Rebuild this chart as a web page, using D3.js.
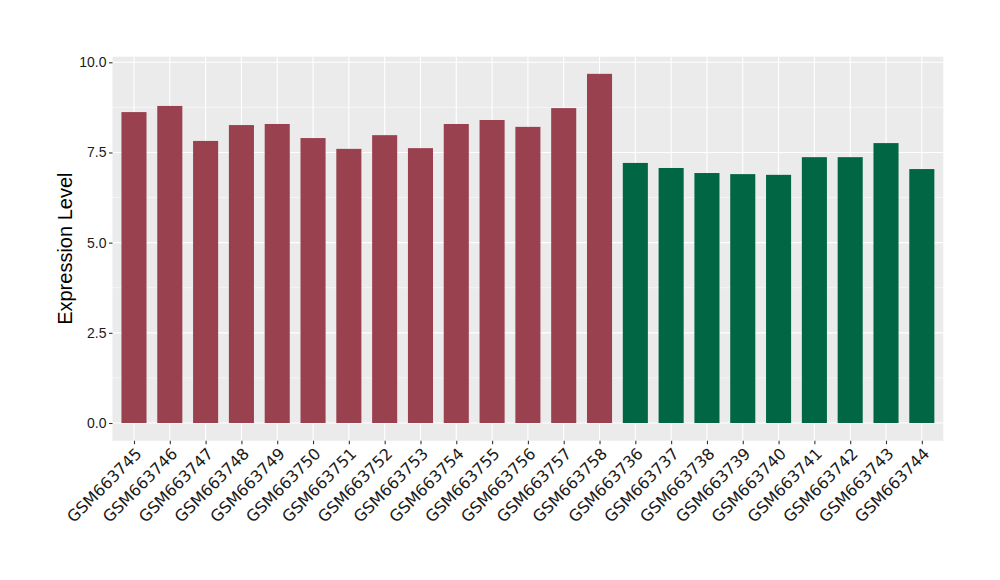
<!DOCTYPE html>
<html><head><meta charset="utf-8">
<script src="https://cdn.jsdelivr.net/npm/d3@7"></script>
<style>body{margin:0;background:#fff}</style>
</head><body><svg id="c" width="1000" height="580"></svg>
<script>
const samples = ["GSM663745","GSM663746","GSM663747","GSM663748","GSM663749","GSM663750","GSM663751","GSM663752","GSM663753","GSM663754","GSM663755","GSM663756","GSM663757","GSM663758","GSM663736","GSM663737","GSM663738","GSM663739","GSM663740","GSM663741","GSM663742","GSM663743","GSM663744"];
const values = [8.62,8.79,7.82,8.26,8.29,7.90,7.60,7.98,7.62,8.29,8.40,8.21,8.73,9.68,7.21,7.07,6.93,6.90,6.88,7.37,7.37,7.76,7.04];
const groups = ["A","A","A","A","A","A","A","A","A","A","A","A","A","A","B","B","B","B","B","B","B","B","B"];
const groupColors = {A:"#99414F", B:"#006643"};
const yTicks = [0,2.5,5,7.5,10];
const yMinor = [1.25,3.75,6.25,8.75];

const svg = d3.select("#c");
const L=112.5, R=943.3, T=56.7, B=440.7;
const y = d3.scaleLinear().domain([0,10]).range([423,62.3]);
const n = samples.length;
const step = (R-L)/(n-1+1.2);
const xc = d3.scalePoint().domain(samples).range([L+0.6*step, R-0.6*step]);
const bw = step*0.7;

svg.append("rect").attr("x",L).attr("y",T).attr("width",R-L).attr("height",B-T).attr("fill","#EBEBEB");
const g = svg.append("g");
g.selectAll(".ymin").data(yMinor).join("line").attr("x1",L).attr("x2",R).attr("y1",d=>y(d)).attr("y2",d=>y(d)).attr("stroke","#fff").attr("stroke-width",0.55);
g.selectAll(".ymaj").data(yTicks).join("line").attr("x1",L).attr("x2",R).attr("y1",d=>y(d)).attr("y2",d=>y(d)).attr("stroke","#fff").attr("stroke-width",1.1);
g.selectAll(".xmaj").data(samples).join("line").attr("x1",d=>xc(d)).attr("x2",d=>xc(d)).attr("y1",T).attr("y2",B).attr("stroke","#fff").attr("stroke-width",1.1);

svg.selectAll(".bar").data(samples).join("rect")
  .attr("x",d=>xc(d)-bw/2).attr("width",bw)
  .attr("y",(d,i)=>y(values[i])).attr("height",(d,i)=>y(0)-y(values[i]))
  .attr("fill",(d,i)=>groupColors[groups[i]]);

// y axis
const ya = svg.append("g").attr("transform",`translate(${L},0)`)
  .call(d3.axisLeft(y).tickValues(yTicks).tickFormat(d3.format(".1f")).tickSize(3.5).tickPadding(2.5));
ya.select(".domain").remove();
ya.selectAll("line").attr("stroke","#333").attr("stroke-width",1.1);
ya.selectAll("text").attr("fill","#1a1a1a").attr("font-family","Liberation Sans, Arial, sans-serif").attr("font-size","14px");

// x axis
const xa = svg.append("g").attr("transform",`translate(0,${B})`)
  .call(d3.axisBottom(xc).tickSize(3.5).tickPadding(2));
xa.select(".domain").remove();
xa.selectAll("line").attr("stroke","#333").attr("stroke-width",1.1);
xa.selectAll("text").attr("fill","#1a1a1a").attr("font-family","DejaVu Sans, sans-serif").attr("font-size","16px")
  .attr("text-anchor","end").attr("dy",null).attr("y",0)
  .attr("transform","translate(8.2,14) rotate(-45)");

svg.append("text").attr("transform",`translate(72,${(T+B)/2}) rotate(-90)`)
  .attr("text-anchor","middle").attr("font-family","Liberation Sans, Arial, sans-serif").attr("font-size","20px")
  .attr("fill","#000").text("Expression Level");
</script></body></html>
